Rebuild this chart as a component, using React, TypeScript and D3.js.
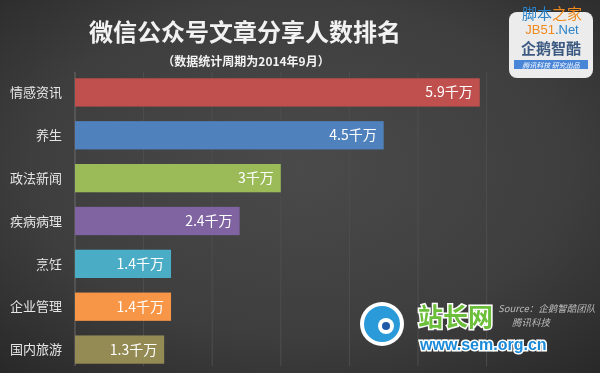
import React from 'react';
import * as d3 from 'd3';

const categories = ['情感资讯', '养生', '政法新闻', '疾病病理', '烹饪', '企业管理', '国内旅游'];
const values = [5.9, 4.5, 3, 2.4, 1.4, 1.4, 1.3];
const valueLabels = ['5.9千万', '4.5千万', '3千万', '2.4千万', '1.4千万', '1.4千万', '1.3千万'];
const barColors = ['#c0504d', '#4f81bd', '#9bbb59', '#8064a2', '#4bacc6', '#f79646', '#948a54'];
const gridTicks = [0, 1, 2, 3, 4, 5, 6];

const W = 600;
const H = 373;
const FONT = '"Noto Sans CJK SC", "Noto Sans", sans-serif';

export default function App() {
    const x = d3.scaleLinear().domain([0, 6]).range([75, 486.6]);
    const y = d3
        .scaleBand()
        .domain(categories)
        .range([71, 371])
        .paddingInner(0.34)
        .paddingOuter(0.17);

    return (
        <svg width={W} height={H} style={{position: 'fixed', left: 0, top: 0}} fontFamily={FONT}>
            <defs>
                <radialGradient id="bg" cx="0.5" cy="0.45" r="0.75">
                    <stop offset="0%" stopColor="#4a4a4a" />
                    <stop offset="60%" stopColor="#3e3e3e" />
                    <stop offset="100%" stopColor="#282828" />
                </radialGradient>
            </defs>
            <rect width={W} height={H} fill="url(#bg)" />

            {/* title */}
            <text x={245} y={41} textAnchor="middle" fill="#f2f2f2" fontSize={24} fontWeight="bold">
                微信公众号文章分享人数排名
            </text>
            <text x={246} y={66} textAnchor="middle" fill="#f2f2f2" fontSize={12} fontWeight="bold">
                （数据统计周期为2014年9月）
            </text>

            {/* grid */}
            {gridTicks.map(t => (
                <line key={t} x1={x(t)} x2={x(t)} y1={72} y2={366}
                      stroke={t === 0 ? '#6a6a6a' : '#4e4e4e'} strokeWidth={1} />
            ))}

            {/* bars */}
            {categories.map((c, i) => (
                <g key={c}>
                    <rect x={x(0)} y={y(c)} width={x(values[i]) - x(0)} height={y.bandwidth()}
                          fill={barColors[i]} />
                    <text x={x(values[i]) - 7} y={y(c)! + y.bandwidth() / 2} dy="0.36em"
                          textAnchor="end" fill="#ffffff" fontSize={14}>
                        {valueLabels[i]}
                    </text>
                    <text x={62} y={y(c)! + y.bandwidth() / 2} dy="0.36em"
                          textAnchor="end" fill="#e6e6e6" fontSize={13}>
                        {c}
                    </text>
                </g>
            ))}

            {/* logo card */}
            <rect x={509} y={12} width={84} height={66} rx={8} fill="#ececec" />
            <text x={551} y={54} textAnchor="middle" fill="#3c5a82" fontSize={15} fontWeight="bold">
                企鹅智酷
            </text>
            <rect x={514} y={60} width={74} height={9} fill="#4a86d8" />
            <text x={551} y={67.5} textAnchor="middle" fill="#ffffff" fontSize={7} fontStyle="italic">
                腾讯科技  研究出品
            </text>
            <text x={552} y={19} textAnchor="middle" fill="#2a82c8" fontSize={15}>
                脚本<tspan fill="#f08a1c">之家</tspan>
            </text>
            <text x={552} y={34} textAnchor="middle" fill="#2a82c8" fontSize={13}
                  fontFamily="'Liberation Sans', sans-serif">
                <tspan fill="#f08a1c">JB51</tspan>.Net
            </text>

            {/* source */}
            <text x={498} y={312} fill="#bbbbbb" fontSize={9.5} fontStyle="italic">Source：企鹅智酷团队</text>
            <text x={512} y={326} fill="#bbbbbb" fontSize={9.5} fontStyle="italic">腾讯科技</text>

            {/* site watermark */}
            <circle cx={382} cy={324} r={22} fill="#ffffff" />
            <circle cx={382} cy={324} r={18} fill="#2a9ad8" />
            <circle cx={386} cy={326} r={8} fill="#ffffff" />
            <circle cx={386} cy={326} r={4} fill="#1e5aa8" />
            <text x={418} y={326} fill="#6cbf3a" stroke="#ffffff" strokeWidth={3} paintOrder="stroke"
                  fontSize={25} fontWeight="bold">站长网</text>
            <text x={420} y={350} fill="#1a8ad8" stroke="#ffffff" strokeWidth={3} paintOrder="stroke"
                  fontSize={16} fontWeight="bold" fontFamily="'Liberation Sans', sans-serif">
                www.sem.org.cn
            </text>
        </svg>
    );
}
